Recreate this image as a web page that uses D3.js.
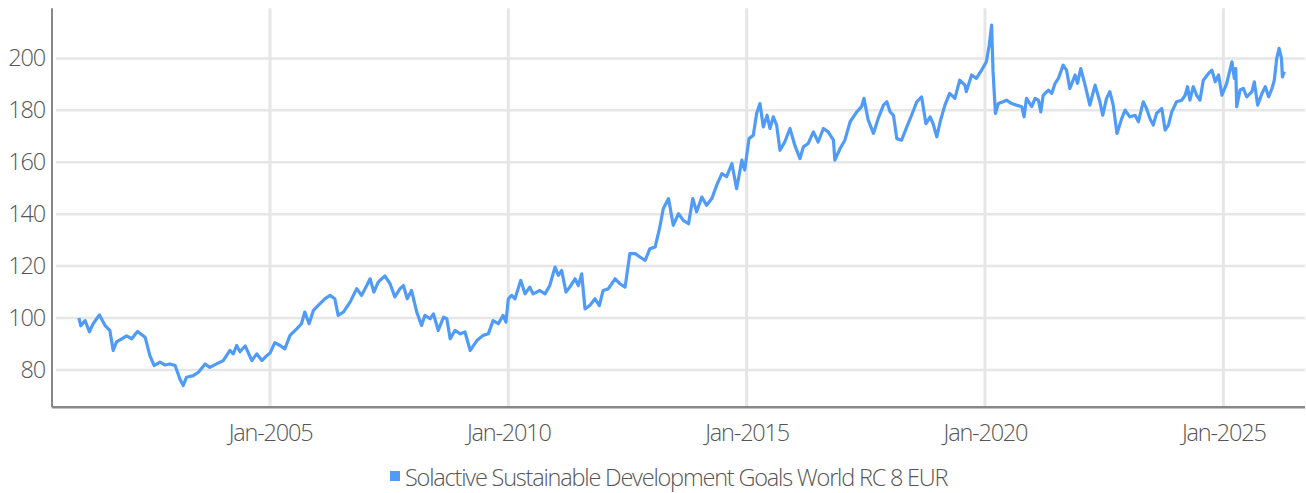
<!DOCTYPE html>
<html>
<head>
<meta charset="utf-8">
<script src="https://d3js.org/d3.v7.min.js"></script>
<style>
  body { margin: 0; background: #fff; }
  text { font-family: "Open Sans", sans-serif; font-weight: 300; letter-spacing: -1.2px; fill: #555; }
</style>
</head>
<body>
<div id="container"></div>
<script>
var width = 1306;
var height = 493;

// index level (dates as decimal years)
var seriesName = "Solactive Sustainable Development Goals World RC 8 EUR";
var years = [
  2000.99, 2001.03, 2001.12, 2001.21, 2001.29, 2001.42, 2001.54, 2001.64, 2001.71, 2001.78,
  2001.89, 2001.99, 2002.10, 2002.22, 2002.38, 2002.48, 2002.57, 2002.69, 2002.80, 2002.90,
  2003.01, 2003.11, 2003.18, 2003.25, 2003.39, 2003.50, 2003.64, 2003.74, 2003.88, 2004.02,
  2004.16, 2004.23, 2004.30, 2004.37, 2004.48, 2004.62, 2004.72, 2004.83, 2004.93, 2005.00,
  2005.10, 2005.21, 2005.31, 2005.42, 2005.56, 2005.66, 2005.73, 2005.82, 2005.91, 2006.05,
  2006.15, 2006.26, 2006.36, 2006.43, 2006.54, 2006.68, 2006.82, 2006.92, 2007.03, 2007.10,
  2007.18, 2007.27, 2007.41, 2007.52, 2007.62, 2007.73, 2007.80, 2007.88, 2007.97, 2008.08,
  2008.18, 2008.25, 2008.36, 2008.43, 2008.53, 2008.64, 2008.71, 2008.78, 2008.88, 2008.99,
  2009.09, 2009.20, 2009.34, 2009.47, 2009.58, 2009.68, 2009.79, 2009.89, 2009.95, 2010.00,
  2010.07, 2010.14, 2010.26, 2010.35, 2010.45, 2010.52, 2010.66, 2010.77, 2010.87, 2010.98,
  2011.05, 2011.12, 2011.21, 2011.29, 2011.40, 2011.47, 2011.54, 2011.61, 2011.71, 2011.82,
  2011.91, 2011.99, 2012.10, 2012.24, 2012.34, 2012.45, 2012.55, 2012.66, 2012.76, 2012.87,
  2012.97, 2013.08, 2013.17, 2013.25, 2013.36, 2013.46, 2013.57, 2013.67, 2013.78, 2013.87,
  2013.95, 2014.06, 2014.16, 2014.27, 2014.37, 2014.48, 2014.58, 2014.69, 2014.79, 2014.90,
  2014.96, 2015.05, 2015.14, 2015.21, 2015.28, 2015.35, 2015.43, 2015.49, 2015.56, 2015.63,
  2015.70, 2015.80, 2015.91, 2016.01, 2016.12, 2016.19, 2016.29, 2016.40, 2016.50, 2016.61,
  2016.71, 2016.82, 2016.85, 2016.96, 2017.06, 2017.17, 2017.31, 2017.41, 2017.46, 2017.55,
  2017.66, 2017.76, 2017.87, 2017.94, 2018.01, 2018.08, 2018.15, 2018.25, 2018.36, 2018.46,
  2018.57, 2018.67, 2018.76, 2018.85, 2018.91, 2018.99, 2019.06, 2019.16, 2019.26, 2019.37,
  2019.47, 2019.58, 2019.61, 2019.72, 2019.82, 2019.93, 2020.03, 2020.09, 2020.14, 2020.17,
  2020.22, 2020.28, 2020.38, 2020.45, 2020.56, 2020.66, 2020.77, 2020.82, 2020.87, 2020.98,
  2021.05, 2021.12, 2021.17, 2021.22, 2021.33, 2021.40, 2021.47, 2021.54, 2021.64, 2021.71,
  2021.78, 2021.89, 2021.94, 2022.01, 2022.10, 2022.20, 2022.31, 2022.41, 2022.47, 2022.55,
  2022.62, 2022.69, 2022.77, 2022.87, 2022.94, 2023.04, 2023.15, 2023.22, 2023.32, 2023.39,
  2023.46, 2023.53, 2023.60, 2023.71, 2023.78, 2023.85, 2023.92, 2024.02, 2024.13, 2024.20,
  2024.25, 2024.30, 2024.37, 2024.44, 2024.51, 2024.58, 2024.69, 2024.76, 2024.83, 2024.90,
  2024.97, 2025.07, 2025.18, 2025.23, 2025.26, 2025.28, 2025.35, 2025.42, 2025.49, 2025.60,
  2025.65, 2025.72, 2025.81, 2025.88, 2025.95, 2026.02, 2026.07, 2026.12, 2026.17, 2026.22,
  2026.24, 2026.28
];
var values = [
  100.0, 97.0, 99.0, 94.7, 97.8, 101.2, 97.1, 95.2, 87.5, 90.8,
  92.0, 93.1, 92.0, 94.8, 92.6, 85.5, 81.7, 83.0, 81.9, 82.3,
  81.7, 76.5, 74.0, 77.2, 77.8, 79.1, 82.3, 81.0, 82.3, 83.6,
  87.5, 86.2, 89.4, 87.0, 89.2, 83.6, 86.2, 83.6, 85.5, 86.5,
  90.5, 89.4, 88.1, 93.3, 95.8, 97.8, 102.3, 97.8, 102.9, 105.5,
  107.4, 108.7, 107.4, 101.0, 102.3, 106.1, 111.3, 108.7, 112.5, 115.1,
  110.0, 113.8, 116.2, 113.2, 108.1, 111.3, 112.5, 107.4, 110.6, 102.3,
  97.1, 101.0, 99.7, 101.6, 95.2, 100.3, 99.7, 92.0, 95.2, 93.9,
  94.6, 87.5, 91.3, 93.3, 93.9, 99.0, 97.8, 101.0, 98.4, 107.4,
  108.7, 107.4, 114.5, 109.3, 111.9, 109.3, 110.6, 109.3, 112.5, 119.6,
  116.4, 118.3, 110.0, 111.9, 115.1, 112.5, 117.0, 103.5, 104.8, 107.4,
  104.8, 110.6, 111.3, 115.1, 113.2, 111.9, 124.8, 124.8, 123.5, 122.2,
  126.7, 127.4, 134.4, 142.1, 146.0, 135.7, 140.2, 137.6, 136.3, 146.0,
  140.9, 146.6, 143.4, 146.0, 151.1, 155.6, 154.4, 159.5, 149.8, 160.8,
  157.0, 169.1, 170.4, 178.8, 182.6, 173.6, 178.1, 173.0, 177.5, 174.3,
  164.6, 167.8, 173.0, 166.6, 161.4, 165.9, 167.2, 171.7, 167.8, 173.0,
  171.7, 168.5, 160.8, 165.3, 168.5, 175.6, 179.4, 181.4, 184.6, 176.2,
  171.1, 176.9, 182.0, 183.3, 179.4, 178.1, 169.1, 168.5, 173.6, 178.1,
  183.3, 185.2, 174.9, 177.5, 174.9, 169.8, 175.6, 182.0, 186.5, 184.6,
  191.6, 189.7, 187.2, 193.6, 192.3, 195.5, 198.7, 205.1, 212.8, 194.9,
  178.8, 182.6, 183.3, 183.9, 182.6, 182.0, 181.4, 177.5, 184.6, 181.4,
  184.6, 183.9, 179.4, 185.8, 187.8, 186.5, 190.4, 192.3, 197.4, 195.5,
  188.4, 193.6, 190.4, 196.1, 189.7, 182.0, 189.7, 183.3, 178.1, 184.6,
  187.2, 182.0, 171.1, 176.9, 180.1, 177.5, 178.1, 175.6, 183.3, 180.7,
  176.9, 174.3, 178.8, 180.7, 172.4, 174.3, 179.4, 183.3, 183.9, 185.8,
  189.1, 183.9, 189.1, 185.8, 183.9, 191.6, 194.2, 195.5, 191.0, 193.6,
  185.8, 190.4, 198.7, 192.3, 196.1, 181.4, 187.8, 188.4, 185.2, 187.2,
  191.0, 182.0, 186.5, 189.1, 185.2, 188.4, 191.6, 200.0, 203.9, 200.0,
  192.9, 194.9
];
var yTicks = [80, 100, 120, 140, 160, 180, 200];
var lineColor = "#4f9bf7";

function toDate(y) {
  var yr = Math.floor(y);
  var start = new Date(yr, 0, 1), end = new Date(yr + 1, 0, 1);
  return new Date(+start + (y - yr) * (end - start));
}

var data = years.map(function(y, i) { return { date: toDate(y), value: values[i] }; });

var plotLeft = 52, plotRight = 1305, plotTop = 8.3, plotBottom = 407.3;

var x = d3.scaleTime()
    .domain([toDate(2000.427), toDate(2026.714)])
    .range([plotLeft, plotRight]);

var y = d3.scaleLinear()
    .domain([65.6, 219.3])
    .range([plotBottom, plotTop]);

var svg = d3.select("#container").append("svg")
    .attr("width", width)
    .attr("height", height);

// grid
svg.append("g")
    .selectAll("line")
    .data(yTicks)
    .enter().append("line")
    .attr("x1", plotLeft + 4).attr("x2", plotRight)
    .attr("y1", function(d) { return y(d); })
    .attr("y2", function(d) { return y(d); })
    .attr("stroke", "#e6e6e6")
    .attr("stroke-width", 2.5);

var xTicks = x.ticks(d3.timeYear.every(5));

svg.append("g")
    .selectAll("line")
    .data(xTicks)
    .enter().append("line")
    .attr("x1", function(d) { return x(d); })
    .attr("x2", function(d) { return x(d); })
    .attr("y1", plotTop).attr("y2", plotBottom)
    .attr("stroke", "#e6e6e6")
    .attr("stroke-width", 3);

// axes
var yAxis = svg.append("g")
    .attr("transform", "translate(" + plotLeft + ",0)")
    .call(d3.axisLeft(y).tickValues(yTicks).tickSize(0).tickPadding(7));
yAxis.select(".domain").remove();
yAxis.selectAll("text").attr("font-size", 23.5).attr("font-family", null);

var xAxis = svg.append("g")
    .attr("transform", "translate(0," + plotBottom + ")")
    .call(d3.axisBottom(x).tickValues(xTicks).tickFormat(d3.timeFormat("%b-%Y")).tickSize(0).tickPadding(17));
xAxis.select(".domain").remove();
xAxis.selectAll("text").attr("font-size", 23.5).attr("font-family", null);

svg.append("line")
    .attr("x1", plotLeft).attr("x2", plotLeft)
    .attr("y1", plotTop).attr("y2", plotBottom)
    .attr("stroke", "#888").attr("stroke-width", 2);

svg.append("line")
    .attr("x1", plotLeft).attr("x2", plotRight)
    .attr("y1", plotBottom).attr("y2", plotBottom)
    .attr("stroke", "#888").attr("stroke-width", 2.5);

// series
var line = d3.line()
    .x(function(d) { return x(d.date); })
    .y(function(d) { return y(d.value); });

svg.append("path")
    .datum(data)
    .attr("d", line)
    .attr("fill", "none")
    .attr("stroke", lineColor)
    .attr("stroke-width", 3.2)
    .attr("stroke-linejoin", "round");

// legend
var legend = svg.append("g").attr("transform", "translate(390,471)");
legend.append("rect")
    .attr("width", 10).attr("height", 10)
    .attr("fill", lineColor);
legend.append("text")
    .attr("x", 15).attr("y", 15)
    .attr("font-size", 23.5)
    .text(seriesName);
</script>
</body>
</html>
